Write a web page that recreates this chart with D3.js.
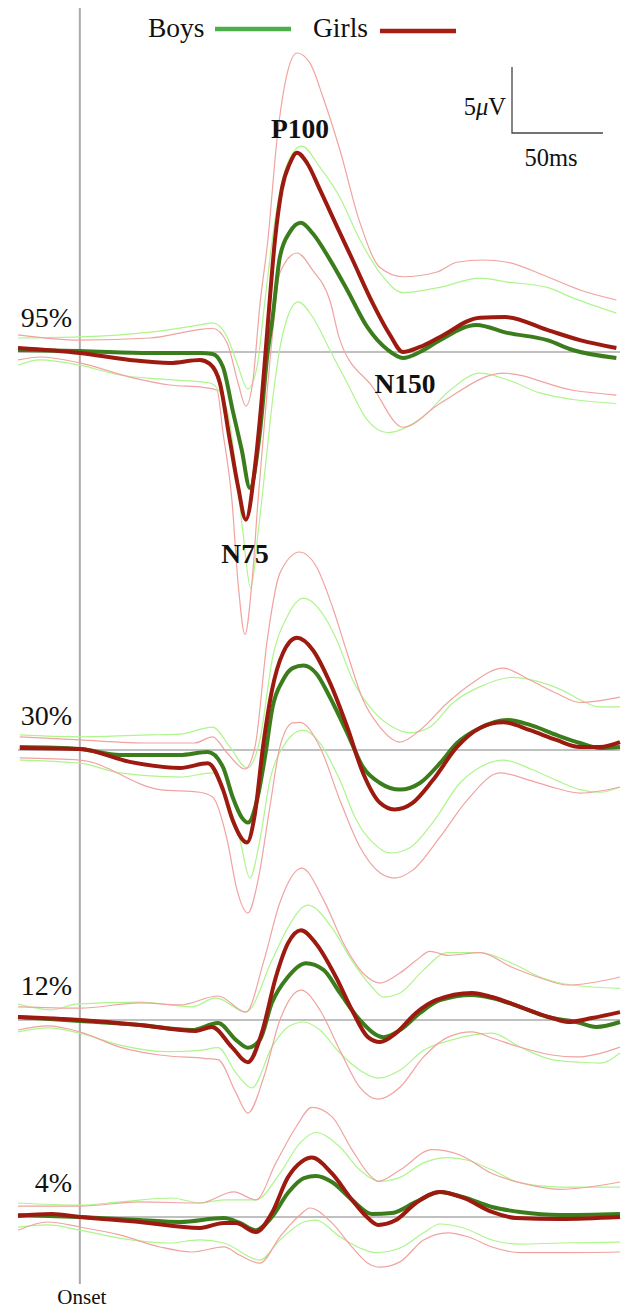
<!DOCTYPE html>
<html>
<head>
<meta charset="utf-8">
<script src="https://cdn.jsdelivr.net/npm/d3@7"></script>
<style>
  html, body { margin: 0; padding: 0; background: #fff; }
  svg { display: block; }
</style>
</head>
<body>
<svg id="chart" width="624" height="1309"></svg>
<script>
// ---------- DATA (time in ms from onset, amplitude in µV) ----------
const panelLabels = ["95%", "30%", "12%", "4%"];
const seriesNames = ["Boys", "Girls"];
const peakLabels = ["P100", "N75", "N150"];
const scaleLabels = ["5\u03bcV", "50ms"];
const timeDomain = [-34, 297];

// 95% contrast
const boys95 = [[-34,0.15],[0,0.08],[38.5,-0.08],[66,-0.08],[73,-0.15],[78.7,-1.14],[84,-4.4],[89,-7.4],[93.5,-10.3],[99,-6.1],[103.4,0.15],[105.6,2.2],[110,7.2],[115.5,9.1],[121.5,9.8],[128,9.0],[137.5,7.0],[147,4.7],[158,1.9],[169.4,0.15],[177.7,-0.45],[187,0],[198,0.9],[218,2.05],[235,1.45],[257,0.9],[271,0.15],[295,-0.45]];
const girls95 = [[-34,0.3],[0,-0.08],[27.5,-0.6],[49.5,-0.83],[66,-0.6],[71.5,-0.9],[77,-2.35],[82.5,-6.7],[87,-10.2],[91.3,-12.7],[96.3,-8.7],[100,-3.6],[103.4,2.2],[107.3,8.5],[111,12.3],[115.5,14.3],[119.4,15.1],[125,14.3],[132,12.3],[141.4,9.5],[150,6.97],[161,3.7],[170.5,1.3],[177.7,0],[187,0.38],[198,1.14],[220,2.6],[234,2.65],[257,1.67],[275,0.9],[295,0.3]];
const boysHi95 = [[-34,1.06],[0,1.14],[38.5,1.5],[66,2.05],[73,2.2],[81,1.14],[86.4,-0.83],[92.4,-2.8],[97.4,-1.14],[101.8,3.9],[107.3,10],[113.9,14.2],[122,15.6],[132,14],[143,11.7],[154,8.5],[165,6],[177.7,4.5],[198,4.9],[220,5.6],[235,5.3],[257,4.9],[271,4.1],[295,2.95]];
const girlsHi95 = [[-34,1.3],[0,0.9],[38.5,1.06],[67.7,1.74],[73,1.8],[81,0.68],[87,-2.35],[91.3,-4.1],[95,-2.35],[99,3.56],[103.4,8.5],[108.4,16.1],[114,21.1],[119.4,22.65],[126.5,21.9],[133.7,19.3],[143,15.3],[154,9.8],[165,6.4],[177.7,5.7],[196.4,6.06],[207.4,6.8],[221.7,6.97],[235,6.8],[257,5.7],[275,4.7],[295,3.94]];
const boysLo95 = [[-34,-1.0],[-22,-0.6],[0,-1.0],[22,-1.74],[49.5,-2.1],[71.5,-2.35],[81,-4.4],[85.3,-8.2],[89.7,-13.7],[94,-17.9],[98,-13.7],[103,-7.4],[106,-3.6],[111.7,1.44],[120,3.8],[128,2.65],[137.5,0.15],[147,-2.35],[158,-5.15],[169,-6.1],[188.7,-4.9],[203.5,-2.9],[220,-1.6],[235,-2.1],[253,-3.1],[271,-3.6],[295,-3.9]];
const girlsLo95 = [[-34,-0.6],[-22,-0.38],[0,-0.83],[27.5,-1.9],[49.5,-2.5],[68.8,-2.7],[75.4,-2.9],[78.7,-6.1],[83.6,-11.2],[87,-17.5],[90.8,-21.4],[94.6,-17.5],[98,-11.2],[101.8,-4.9],[106,1.44],[110,6.0],[119.4,7.5],[128,6.2],[137.5,3.9],[143,0.9],[161,-2.65],[177.7,-5.7],[198,-3.9],[232.7,-1.6],[271,-2.9],[295,-3.26]];

// 30% contrast
const boys30 = [[-33,0.23],[0,0.08],[22,-0.38],[55,-0.38],[70.4,-0.15],[78.7,-1.3],[84,-3.56],[89,-5.1],[92.4,-5.5],[97.4,-3.8],[101.8,-0.53],[106,3.26],[111.7,5.3],[117,6.2],[123,6.4],[130,5.8],[137.5,4.0],[147,1.3],[155.7,-1.3],[165,-2.5],[176,-3.0],[187,-2.5],[198,-1.0],[207.4,0.53],[220,1.67],[235,2.27],[247.5,1.9],[262,1.14],[275,0.53],[286,0.15],[297,0.23]];
const girls30 = [[-33,0.15],[0,0.08],[27.5,-0.9],[55,-1.36],[70.4,-1.0],[78.7,-3.0],[84,-5.3],[91.9,-7.0],[96.3,-4.8],[100.7,0.23],[105.6,4.5],[111.7,7.35],[119.4,8.5],[128,7.6],[137.5,5.1],[147,1.74],[155.7,-1.74],[165,-4.0],[173,-4.5],[183,-4.0],[194,-2.3],[207.4,0.23],[220,1.67],[232.7,2.1],[247.5,1.5],[262,0.76],[275,0.23],[286,0.23],[297,0.6]];
const boysHi30 = [[-33,1.14],[0,1.0],[38.5,1.14],[55,1.2],[73,1.74],[82.5,0.23],[92,-1.36],[99,0.76],[106,7.0],[114,10.1],[123,11.5],[132,10.6],[141.4,8.3],[150,5.3],[161,3.0],[172,1.74],[181.5,1.3],[192.5,1.74],[205,3.56],[220,4.8],[238,5.5],[249,5.3],[265.7,4.5],[275,3.8],[286,3.26],[297,3.26]];
const girlsHi30 = [[-33,1.0],[0,0.76],[38.5,0.53],[63,0.53],[73,1.0],[81,-0.23],[90.8,-1.44],[96.3,0.23],[103,8.3],[110,13.4],[121,15.0],[130,13.9],[139,10.8],[147,7.35],[155.7,3.8],[165,1.74],[176,0.6],[187,1.5],[202,3.56],[216,5.1],[232.7,6.2],[247.5,5.3],[262,4.3],[275,3.6],[297,4.0]];
const boysLo30 = [[-33,-0.76],[0,-1.0],[22,-1.74],[55,-2.05],[73,-1.74],[81,-3.8],[88,-6.8],[93.5,-9.7],[99,-6.8],[104.5,-2.3],[111.7,0.23],[122.7,1.5],[132,0.53],[143,-2.3],[152,-5.3],[161,-7.0],[170.5,-7.8],[181.5,-7.4],[194,-5.5],[209,-2.5],[220,-1.3],[232.7,-0.76],[249,-1.5],[262,-2.3],[275,-3.0],[286,-3.2],[297,-2.8]];
const girlsLo30 = [[-33,-0.6],[0,-0.76],[44,-3.0],[66,-3.2],[73,-3.56],[81,-6.8],[86.4,-10.6],[92.4,-12.35],[98,-9.85],[104.5,-4.3],[110,0.23],[117,2.05],[121,2.1],[132,0.23],[143,-3.8],[154,-7.35],[165,-9.3],[173,-9.7],[183,-9.1],[198,-6.6],[213,-3.8],[231,-1.74],[247.5,-2.3],[262,-2.9],[275,-3.26],[297,-2.8]];

// 12% contrast
const boys12 = [[-34,0.23],[0,-0.08],[33,-0.38],[61.6,-0.76],[76,-0.23],[85.8,-1.5],[92.4,-2.1],[99,-1.5],[105.6,1.3],[114.4,3.26],[124.3,4.3],[134,3.8],[143,2.05],[154,0],[167,-1.3],[176,-0.76],[187,0.53],[198,1.5],[215.6,1.9],[226.6,1.67],[242,1.0],[257.4,0.23],[273,-0.15],[284,-0.53],[297,-0.15]];
const girls12 = [[-34,0.23],[0,0],[33,-0.38],[63.8,-0.83],[72.6,-0.53],[83.6,-2.05],[92.4,-3.2],[100,-1.0],[107.8,3.26],[114.4,5.8],[121.6,6.8],[129.8,5.8],[140.8,3.26],[149.6,0.76],[158.4,-1.3],[165,-1.67],[173.8,-1.0],[184.8,0.53],[195.8,1.5],[215.6,2.05],[226.6,1.74],[242,1.0],[259.6,0.15],[268.4,-0.15],[281.6,0.15],[297,0.6]];
const boysHi12 = [[-34,1.2],[-15.4,0.76],[-2.2,1.2],[33,1.36],[61.6,1.0],[74.8,1.67],[91.3,0.6],[105.6,4.5],[114.4,7.0],[125.4,8.7],[138.6,7.0],[149.6,4.5],[160.6,2.5],[167,1.74],[176,2.05],[189,3.8],[202,5.1],[220,5.1],[237.6,4.3],[253,3.26],[270.6,2.65],[297,2.4]];
const girlsHi12 = [[-34,1.0],[0,0.9],[33,1.3],[55,1.14],[76,1.82],[91.3,0.6],[101.2,4.5],[110,8.9],[122,11.5],[134,9.1],[145,5.8],[156,3.5],[165,2.8],[176,3.56],[184.8,4.5],[192.5,5.2],[202.4,4.9],[220,5.1],[237.6,4.0],[253,3.2],[268.4,2.65],[297,3.26]];
const boysLo12 = [[-34,-0.9],[-17.6,-0.6],[0,-1.0],[22,-1.9],[48.4,-2.4],[66,-2.3],[76,-2.1],[85.8,-4.0],[94.6,-5.15],[105.6,-2.05],[114.4,-0.53],[123.2,-0.15],[132,-0.76],[143,-2.5],[154,-3.8],[164,-4.4],[176,-3.8],[189,-2.3],[204.6,-1.5],[226.6,-1.0],[242,-2.05],[259.6,-3.0],[275,-3.2],[286,-3.26],[297,-2.5]];
const girlsLo12 = [[-34,-0.76],[-17.6,-0.45],[0,-0.9],[22,-2.05],[44,-2.65],[68.2,-2.9],[76,-3.0],[85.8,-5.5],[92.4,-7.05],[101.2,-4.3],[110,0],[121.6,2.27],[132,0.76],[143,-2.3],[154,-5.1],[164,-6.0],[176,-5.1],[189,-2.8],[202.4,-1.3],[215.6,-0.9],[226.6,-1.36],[242,-2.05],[259.6,-2.65],[273,-2.8],[297,-2.05]];

// 4% contrast
const boys4 = [[-34,0.15],[0,0],[33,-0.23],[55,-0.38],[79.2,-0.08],[88,-0.45],[96.8,-1.0],[105.6,0],[114.4,1.82],[123.2,2.95],[129.8,3.1],[138.6,2.65],[149.6,1.3],[160.6,0.23],[171.6,0.3],[184.8,1.14],[198,1.9],[211,1.5],[226.6,0.76],[242,0.38],[264,0.15],[297,0.23]];
const girls4 = [[-34,0.08],[-15.4,0.23],[0,0],[33,-0.38],[66,-0.83],[79.2,-0.45],[85.8,-0.45],[96.8,-1.14],[105.6,0.3],[114.4,3.0],[122,4.2],[127.6,4.5],[138.6,3.3],[149.6,1.3],[158.4,-0.08],[164,-0.6],[173.8,-0.23],[184.8,1.06],[198,1.9],[211,1.44],[226.6,0.38],[239.8,-0.08],[264,-0.15],[297,0]];
const boysHi4 = [[-34,1.06],[0,0.9],[22,1.14],[50.6,1.44],[66,1.06],[79.2,1.3],[96.8,1.3],[110,3.3],[121,5.6],[129.8,6.4],[143,5.3],[154,3.56],[165,2.7],[176,3.0],[189,4.1],[202.4,4.5],[213.4,4.3],[226.6,3.56],[242,2.6],[264,2.27],[297,2.27]];
const girlsHi4 = [[-34,0.83],[0,0.83],[33,1.14],[66,1.06],[84.7,1.9],[96.8,1.3],[107.8,4.1],[118.8,6.8],[127.6,8.3],[138.6,7.6],[149.6,5.1],[160.6,3.0],[164,2.7],[176,3.56],[193.6,5.1],[209,4.7],[226.6,3.3],[242,2.6],[264,2.1],[297,2.65]];
const boysLo4 = [[-34,-0.76],[-17.6,-0.6],[0,-1.0],[22,-1.6],[48.4,-1.97],[66,-1.74],[79.2,-1.97],[99,-3.26],[110,-1.74],[123.2,-0.38],[129.8,-0.23],[143,-1.5],[154,-2.35],[162.8,-2.7],[176,-2.35],[189,-1.2],[198,-0.53],[211,-0.83],[226.6,-1.74],[242,-2.05],[264,-1.97],[297,-1.9]];
const girlsLo4 = [[-34,-1.0],[-17.6,-0.38],[0,-0.76],[22,-1.36],[44,-2.27],[61.6,-2.65],[79.2,-2.27],[88,-2.9],[99,-3.5],[110,-1.5],[121,0.15],[126.5,0.68],[138.6,-0.45],[149.6,-2.27],[158.4,-3.5],[165,-3.8],[176,-3.4],[189,-1.74],[202.4,-1.2],[213.4,-1.5],[226.6,-2.27],[242,-2.7],[264,-2.7],[297,-2.65]];

// ---------- LAYOUT ----------
const panelBaselines = [352, 750, 1020, 1217];
const panels = [
  {label: panelLabels[0], boys: boys95, girls: girls95, boysHi: boysHi95, boysLo: boysLo95, girlsHi: girlsHi95, girlsLo: girlsLo95},
  {label: panelLabels[1], boys: boys30, girls: girls30, boysHi: boysHi30, boysLo: boysLo30, girlsHi: girlsHi30, girlsLo: girlsLo30},
  {label: panelLabels[2], boys: boys12, girls: girls12, boysHi: boysHi12, boysLo: boysLo12, girlsHi: girlsHi12, girlsLo: girlsLo12},
  {label: panelLabels[3], boys: boys4, girls: girls4, boysHi: boysHi4, boysLo: boysLo4, girlsHi: girlsHi4, girlsLo: girlsLo4}
];

const C = {
  boysMean: "#3b7d1c", girlsMean: "#9c1a10",
  boysCI: "#aef58c", girlsCI: "#f0a3a0",
  legendBoys: "#4caf4c", legendGirls: "#a31f14",
  axis: "#ababab", text: "#111"
};
const serif = "'Liberation Serif','Times New Roman',Times,serif";

const svg = d3.select("#chart");
const x = d3.scaleLinear().domain(timeDomain).range([18, 620]);
const uvPx = 13.2; // px per µV

// onset axis
svg.append("line").attr("x1", x(0)).attr("x2", x(0)).attr("y1", 8).attr("y2", 1284)
  .attr("stroke", C.axis).attr("stroke-width", 2);

panels.forEach((p, i) => {
  const b = panelBaselines[i];
  const y = d3.scaleLinear().domain([-5, 5]).range([b + 5 * uvPx, b - 5 * uvPx]);
  const line = d3.line().x(d => x(d[0])).y(d => y(d[1])).curve(d3.curveMonotoneX);
  const g = svg.append("g");
  // baseline
  g.append("line").attr("x1", x(timeDomain[0])).attr("x2", x(timeDomain[1]))
    .attr("y1", y(0)).attr("y2", y(0)).attr("stroke", C.axis).attr("stroke-width", 1.6);
  // CIs
  [[p.boysHi, C.boysCI], [p.boysLo, C.boysCI], [p.girlsHi, C.girlsCI], [p.girlsLo, C.girlsCI]].forEach(([d, c]) => {
    g.append("path").attr("d", line(d)).attr("fill", "none").attr("stroke", c).attr("stroke-width", 1.2);
  });
  // means
  g.append("path").attr("d", line(p.boys)).attr("fill", "none").attr("stroke", C.boysMean)
    .attr("stroke-width", 4).attr("stroke-linejoin", "round");
  g.append("path").attr("d", line(p.girls)).attr("fill", "none").attr("stroke", C.girlsMean)
    .attr("stroke-width", 4).attr("stroke-linejoin", "round");
  // panel label
  g.append("text").attr("x", 72).attr("y", b - 25).attr("text-anchor", "end")
    .attr("font-family", serif).attr("font-size", 28).attr("fill", C.text).text(p.label);
});

// peak labels
const peakPos = [[300, 138], [245, 563], [405, 393]];
peakLabels.forEach((t, i) => {
  svg.append("text").attr("x", peakPos[i][0]).attr("y", peakPos[i][1]).attr("text-anchor", "middle")
    .attr("font-family", serif).attr("font-weight", "bold").attr("font-size", 27.5)
    .attr("fill", C.text).text(t);
});

// legend
svg.append("text").attr("x", 148).attr("y", 37).attr("font-family", serif).attr("font-size", 27.5)
  .attr("fill", C.text).text(seriesNames[0]);
svg.append("line").attr("x1", 215).attr("x2", 291).attr("y1", 29).attr("y2", 29)
  .attr("stroke", C.legendBoys).attr("stroke-width", 4.5);
svg.append("text").attr("x", 313).attr("y", 37).attr("font-family", serif).attr("font-size", 27.5)
  .attr("fill", C.text).text(seriesNames[1]);
svg.append("line").attr("x1", 380).attr("x2", 456).attr("y1", 31).attr("y2", 31)
  .attr("stroke", C.legendGirls).attr("stroke-width", 4.5);

// scale bar
const sbX = 512, sbY = 133;
const vLen = 5 * uvPx, hLen = x(50) - x(0);
svg.append("path").attr("d", `M${sbX},${sbY - vLen}V${sbY}H${sbX + hLen}`)
  .attr("fill", "none").attr("stroke", "#444").attr("stroke-width", 1.3);
const sv = svg.append("text").attr("x", sbX - 6).attr("y", 115).attr("text-anchor", "end")
  .attr("font-family", serif).attr("font-size", 24.5).attr("fill", C.text);
sv.append("tspan").text("5");
sv.append("tspan").attr("font-style", "italic").text("\u03bc");
sv.append("tspan").text("V");
svg.append("text").attr("x", 551).attr("y", 166).attr("text-anchor", "middle")
  .attr("font-family", serif).attr("font-size", 24.5).attr("fill", C.text).text(scaleLabels[1]);

// onset label
svg.append("text").attr("x", x(0) + 2).attr("y", 1304).attr("text-anchor", "middle")
  .attr("font-family", serif).attr("font-size", 21).attr("fill", C.text).text("Onset");
</script>
</body>
</html>
